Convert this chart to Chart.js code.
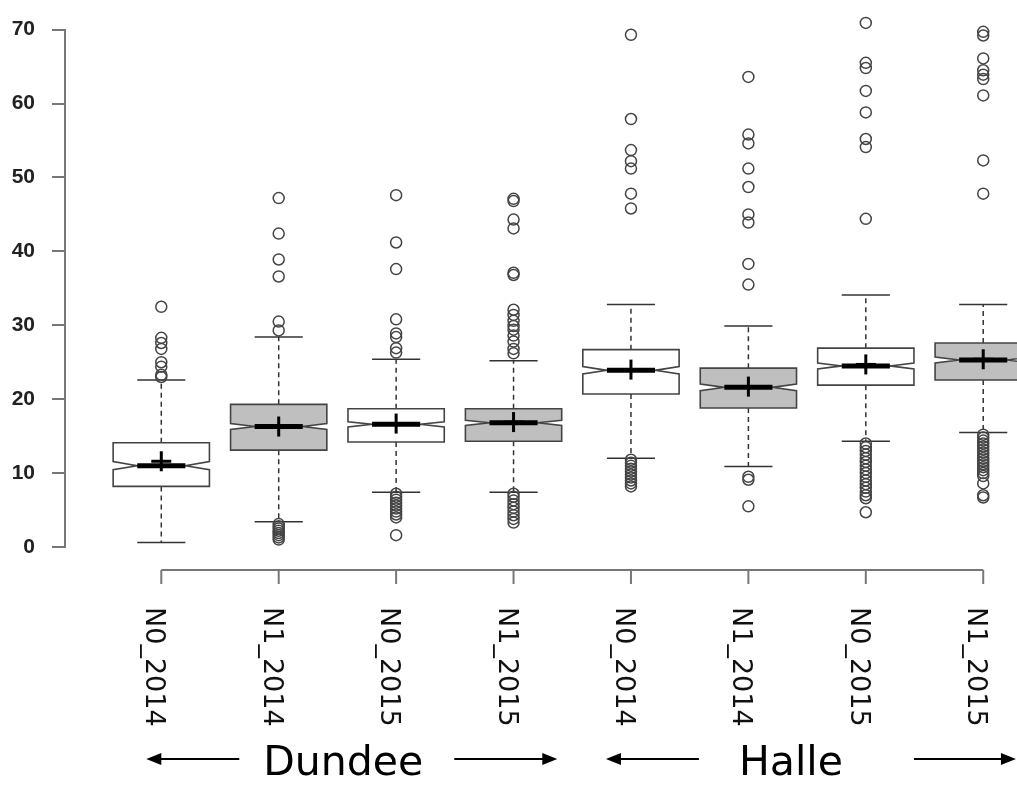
<!DOCTYPE html>
<html>
<head>
<meta charset="utf-8">
<script src="https://cdn.jsdelivr.net/npm/chart.js@4"></script>
<style>
  html, body { margin: 0; padding: 0; background: #fff; }
  #wrap { width: 1017px; height: 786px; position: relative; }
</style>
</head>
<body>
<div id="wrap"><canvas id="boxChart"></canvas></div>
<script>
// groups and categories
const labels = ['N0_2014', 'N1_2014', 'N0_2015', 'N1_2015', 'N0_2014', 'N1_2014', 'N0_2015', 'N1_2015'];
const sites = ['Dundee', 'Halle'];
const yTicks = [0, 10, 20, 30, 40, 50, 60, 70];

// box statistics
const whiskerLow  = [0.6, 3.4, 7.4, 7.4, 12.0, 10.9, 14.3, 15.5];
const q1          = [8.2, 13.1, 14.2, 14.3, 20.7, 18.8, 21.9, 22.6];
const median      = [11.0, 16.3, 16.6, 16.8, 23.9, 21.6, 24.5, 25.3];
const q3          = [14.1, 19.3, 18.7, 18.7, 26.7, 24.2, 26.9, 27.6];
const whiskerHigh = [22.6, 28.4, 25.4, 25.2, 32.8, 29.9, 34.1, 32.8];
const means       = [11.6, 16.3, 16.7, 16.9, 24.0, 21.7, 24.7, 25.4];
const notch       = [0.55, 0.4, 0.35, 0.35, 0.5, 0.45, 0.4, 0.4];
const shaded      = [false, true, false, true, false, true, false, true];

const outliers = [
  [32.5, 28.3, 27.6, 26.8, 25.0, 24.4, 23.3, 23.0],
  [47.2, 42.4, 38.9, 36.6, 30.5, 29.3, 3.1, 2.8, 2.5, 2.2, 1.9, 1.6, 1.3, 1.0],
  [47.6, 41.2, 37.6, 30.8, 28.9, 28.4, 26.9, 26.3, 7.2, 6.8, 6.4, 6.0, 5.6, 5.2, 4.8, 4.4, 4.0, 1.6],
  [47.1, 46.8, 44.3, 43.1, 37.1, 36.8, 32.1, 31.4, 30.6, 29.9, 29.4, 28.6, 27.8, 26.8, 26.2, 7.2, 6.8, 6.3, 5.8, 5.3, 4.8, 4.3, 3.8, 3.3],
  [69.3, 57.9, 53.7, 52.2, 51.2, 47.8, 45.8, 11.8, 11.4, 11.0, 10.6, 10.2, 9.8, 9.4, 9.0, 8.6, 8.2],
  [63.6, 55.8, 54.6, 51.2, 48.7, 45.0, 43.9, 38.3, 35.5, 9.5, 9.1, 5.5],
  [70.9, 65.5, 64.8, 61.7, 58.8, 55.2, 54.1, 44.4, 14.0, 13.5, 13.0, 12.5, 12.0, 11.5, 11.0, 10.5, 10.0, 9.5, 9.0, 8.5, 8.0, 7.5, 7.0, 6.6, 4.7],
  [69.7, 69.2, 66.1, 64.5, 63.9, 63.3, 61.1, 52.3, 47.8, 15.2, 14.8, 14.4, 14.0, 13.6, 13.2, 12.8, 12.4, 12.0, 11.6, 11.2, 10.8, 10.4, 10.0, 9.6, 8.6, 7.0, 6.7]
];

const outlierPoints = [];
outliers.forEach((list, i) => list.forEach(v => outlierPoints.push({ x: i, y: v })));

function line(ctx, x1, y1, x2, y2) {
  ctx.beginPath(); ctx.moveTo(x1, y1); ctx.lineTo(x2, y2); ctx.stroke();
}

function arrow(ctx, tail, tip, y) {
  const dir = tip > tail ? 1 : -1;
  ctx.lineWidth = 2;
  line(ctx, tail, y, tip - dir * 10, y);
  ctx.beginPath();
  ctx.moveTo(tip, y);
  ctx.lineTo(tip - dir * 15, y - 6);
  ctx.lineTo(tip - dir * 15, y + 6);
  ctx.closePath();
  ctx.fill();
}

// R style notched boxes
const boxPlugin = {
  id: 'rBoxes',
  beforeDatasetsDraw(chart) {
    const { ctx } = chart;
    const xs = chart.scales.x, ys = chart.scales.y;
    const half = (xs.getPixelForValue(1) - xs.getPixelForValue(0)) * 0.41;
    ctx.save();
    labels.forEach((_, i) => {
      const cx = xs.getPixelForValue(i);
      const yLo = ys.getPixelForValue(whiskerLow[i]);
      const yHi = ys.getPixelForValue(whiskerHigh[i]);
      const y1 = ys.getPixelForValue(q1[i]);
      const y3 = ys.getPixelForValue(q3[i]);
      const yMed = ys.getPixelForValue(median[i]);
      const nTop = ys.getPixelForValue(median[i] + notch[i]);
      const nBot = ys.getPixelForValue(median[i] - notch[i]);

      ctx.strokeStyle = '#333';
      ctx.lineWidth = 1.5;
      ctx.setLineDash([5, 4]);
      line(ctx, cx, y3, cx, yHi);
      line(ctx, cx, y1, cx, yLo);
      ctx.setLineDash([]);
      line(ctx, cx - half / 2, yHi, cx + half / 2, yHi);
      line(ctx, cx - half / 2, yLo, cx + half / 2, yLo);

      ctx.beginPath();
      ctx.moveTo(cx - half, y3);
      ctx.lineTo(cx + half, y3);
      ctx.lineTo(cx + half, nTop);
      ctx.lineTo(cx + half / 2, yMed);
      ctx.lineTo(cx + half, nBot);
      ctx.lineTo(cx + half, y1);
      ctx.lineTo(cx - half, y1);
      ctx.lineTo(cx - half, nBot);
      ctx.lineTo(cx - half / 2, yMed);
      ctx.lineTo(cx - half, nTop);
      ctx.closePath();
      ctx.fillStyle = shaded[i] ? '#bfbfbf' : '#ffffff';
      ctx.fill();
      ctx.strokeStyle = '#444';
      ctx.lineWidth = 1.6;
      ctx.stroke();

      // median and mean
      ctx.strokeStyle = '#000';
      ctx.lineWidth = 5;
      line(ctx, cx - half / 2, yMed, cx + half / 2, yMed);
      const yMean = ys.getPixelForValue(means[i]);
      ctx.lineWidth = 3;
      line(ctx, cx - 10, yMean, cx + 10, yMean);
      line(ctx, cx, yMean - 10, cx, yMean + 10);
    });
    ctx.restore();
  },
  afterDraw(chart) {
    const { ctx } = chart;
    const xs = chart.scales.x;
    const axisY = 570;
    ctx.save();
    // x axis
    ctx.strokeStyle = '#777';
    ctx.lineWidth = 2;
    line(ctx, xs.getPixelForValue(0), axisY, xs.getPixelForValue(labels.length - 1), axisY);
    labels.forEach((lab, i) => {
      const x = xs.getPixelForValue(i);
      line(ctx, x, axisY, x, axisY + 14);
      ctx.save();
      ctx.translate(x - 15, 607);
      ctx.rotate(Math.PI / 2);
      ctx.fillStyle = '#111';
      ctx.font = '27px "DejaVu Sans"';
      ctx.textAlign = 'left';
      ctx.textBaseline = 'alphabetic';
      ctx.fillText(lab, 0, 0);
      ctx.restore();
    });

    // site labels with arrows
    ctx.fillStyle = '#000';
    ctx.strokeStyle = '#000';
    ctx.font = '41px "DejaVu Sans"';
    ctx.textAlign = 'center';
    ctx.textBaseline = 'alphabetic';
    const arrowY = 759;
    const x0 = xs.getPixelForValue(0), x4 = xs.getPixelForValue(4);
    ctx.fillText(sites[0], x0 + 182, 775);
    arrow(ctx, x0 + 78, x0 - 15, arrowY);
    arrow(ctx, x0 + 293, x0 + 396, arrowY);
    ctx.fillText(sites[1], x4 + 160, 775);
    arrow(ctx, x4 + 68, x4 - 25, arrowY);
    arrow(ctx, x4 + 283, x4 + 385, arrowY);
    ctx.restore();
  }
};

const ctx = document.getElementById('boxChart').getContext('2d');
new Chart(ctx, {
  type: 'scatter',
  data: {
    datasets: [{
      data: outlierPoints,
      showLine: false,
      pointStyle: 'circle',
      pointRadius: 5.5,
      pointBorderWidth: 1.5,
      pointBorderColor: '#444',
      pointBackgroundColor: 'rgba(0,0,0,0)',
      clip: false
    }]
  },
  options: {
    responsive: true,
    maintainAspectRatio: false,
    animation: false,
    layout: { padding: { top: 27, bottom: 239, left: 0, right: 0 } },
    plugins: { legend: { display: false }, tooltip: { enabled: false } },
    scales: {
      x: { type: 'linear', min: -0.82, max: 7.228, display: false },
      y: {
        min: 0, max: 70,
        afterFit: s => { s.width = 65; },
        afterBuildTicks: s => { s.ticks = yTicks.map(v => ({ value: v })); },
        grid: { drawOnChartArea: false, drawTicks: true, tickLength: 13, color: '#777', lineWidth: 2 },
        border: { display: true, color: '#777', width: 2 },
        ticks: { padding: 17, color: '#222', font: { family: 'Liberation Sans', size: 21, weight: 'bold' } }
      }
    }
  },
  plugins: [boxPlugin]
});
</script>
</body>
</html>
